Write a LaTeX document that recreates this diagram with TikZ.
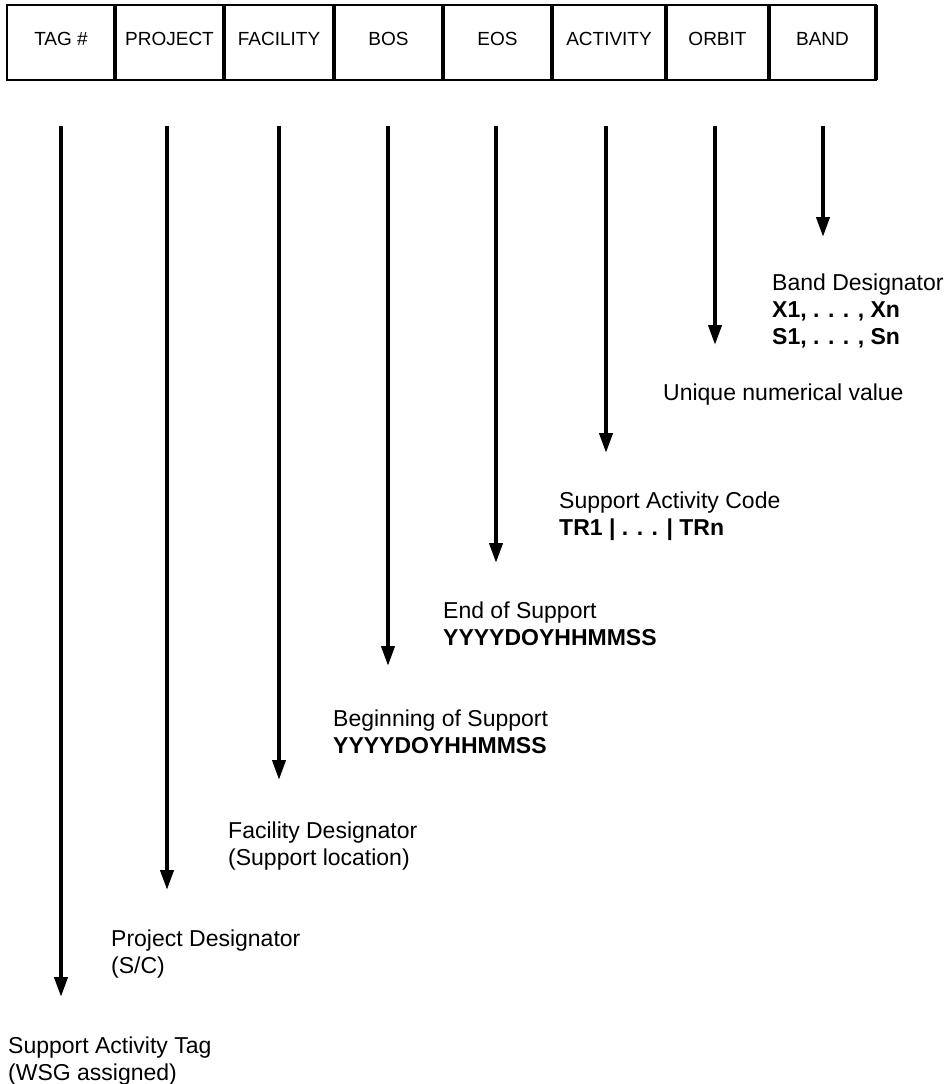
\documentclass[tikz,border=0pt]{standalone}
\usepackage{fontspec}
\setmainfont{Liberation Sans}
\usetikzlibrary{arrows.meta}
\definecolor{ink}{HTML}{000000}
\tikzset{
  cellbox/.style={draw=ink, line width=2pt, outer sep=0pt, inner sep=0pt,
    minimum height=75pt, font=\fontsize{19}{22}\selectfont,
    text height=13.6pt, text depth=7pt},
  divider/.style={draw=ink, line width=3.5pt},
  arr/.style={draw=ink, line width=4pt, -{Triangle[width=13pt,length=20pt]}},
  lab/.style={text=ink, anchor=north west, inner sep=0pt, align=left,
    font=\fontsize{23}{26.8}\selectfont}
}

\begin{document}
\begin{tikzpicture}[x=1pt, y=-1pt]
  \useasboundingbox (0,0) rectangle (950,1084);
  % record layout
  \foreach \nm/\txt/\xa/\xb in {tag/TAG \#/7/115, project/PROJECT/115/224,
      facility/FACILITY/224/334, bos/BOS/334/443, eos/EOS/443/552,
      activity/ACTIVITY/552/666, orbit/ORBIT/666/769, band/BAND/769/876}
    \node[cellbox, minimum width={\xb pt-\xa pt}] (\nm) at ({(\xa+\xb)/2},42.5) {\txt};
  \foreach \nm in {tag,project,facility,bos,eos,activity,orbit,band}
    \draw[divider] (\nm.north east) -- (\nm.south east);
  % field arrows
  \foreach \nm/\x/\y in {tag/61/997, project/167/890, facility/279/780,
      bos/388/666, eos/496/563, activity/606/453, orbit/715/345, band/823/237} {
    \coordinate (\nm top) at (\x,126);
    \coordinate (\nm tip) at (\x,\y);
    \draw[arr] (\nm top) -- (\nm tip);
  }
  % field descriptions
  \node[lab] (bandlab) at (772,273.7) {Band Designator\\\textbf{X1, . . . , Xn}\\\textbf{S1, . . . , Sn}};
  \node[lab] (orbitlab) at (663,383.7) {Unique numerical value};
  \node[lab] (activitylab) at (559,491.7) {Support Activity Code\\\textbf{TR1 | . . . | TRn}};
  \node[lab] (eoslab) at (443,601.7) {End of Support\\\textbf{YYYYDOYHHMMSS}};
  \node[lab] (boslab) at (333,709.7) {Beginning of Support\\\textbf{YYYYDOYHHMMSS}};
  \node[lab] (facilitylab) at (228,821.7) {Facility Designator\\(Support location)};
  \node[lab] (projectlab) at (111,929.7) {Project Designator\\(S/C)};
  \node[lab] (taglab) at (8,1036.7) {Support Activity Tag\\(WSG assigned)};
\end{tikzpicture}
\end{document}
